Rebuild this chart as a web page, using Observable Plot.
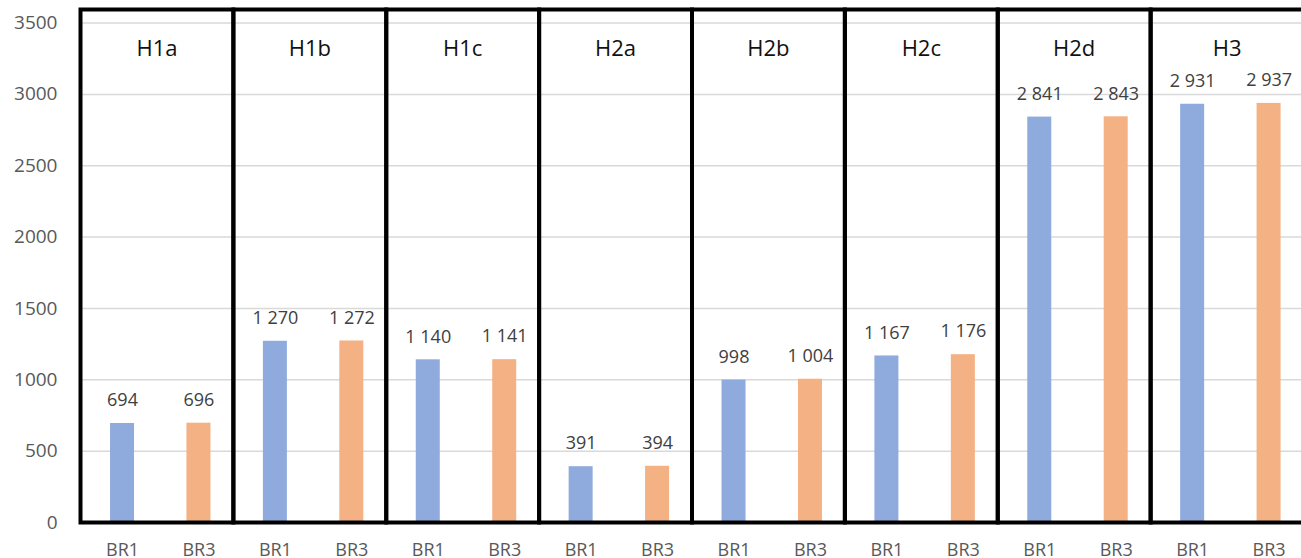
<!DOCTYPE html>
<html>
<head>
<meta charset="utf-8">
<script src="https://cdn.jsdelivr.net/npm/d3@7"></script>
<script src="https://cdn.jsdelivr.net/npm/@observablehq/plot@0.6"></script>
<style>
  html, body { margin: 0; padding: 0; background: #fff; }
  #chart svg { display: block; }
</style>
</head>
<body>
<div id="chart"></div>
<script>
// Group names, series names and values per group
const groups = ["H1a", "H1b", "H1c", "H2a", "H2b", "H2c", "H2d", "H3"];
const series = ["BR1", "BR3"];
const br1 = [694, 1270, 1140, 391, 998, 1167, 2841, 2931];
const br3 = [696, 1272, 1141, 394, 1004, 1176, 2843, 2937];
const yTicks = [0, 500, 1000, 1500, 2000, 2500, 3000, 3500];

const colors = {BR1: "#8faadc", BR3: "#f4b183"};

const rows = groups.flatMap((g, i) => [
  {group: g, series: "BR1", value: br1[i]},
  {group: g, series: "BR3", value: br3[i]}
]);

// Values use a space as thousands separator
const fmt = d3.formatLocale({decimal: ",", thousands: " ", grouping: [3], currency: ["", ""]}).format(",d");

const chart = Plot.plot({
  width: 1301,
  height: 558,
  marginTop: 9,
  marginBottom: 36,
  marginLeft: 80,
  marginRight: 0,
  style: {fontFamily: "'Open Sans', sans-serif", background: "#fff"},
  fx: {domain: groups, range: [80, 1303], padding: 0, round: false, axis: null},
  x: {domain: series, paddingInner: 0.686, paddingOuter: 0.343, round: false, axis: null},
  y: {domain: [0, 3595], axis: null},
  marks: [
    Plot.gridY(yTicks, {stroke: "#d9d9d9", strokeOpacity: 1, strokeWidth: 1.5}),
    Plot.barY(rows, {fx: "group", x: "series", y: "value", fill: d => colors[d.series], dx: 3.8}),
    Plot.text(rows, {
      fx: "group", x: "series", y: "value", text: d => fmt(d.value),
      dx: 3.8, dy: -23, lineAnchor: "middle", fontSize: 18, fill: "#404040"
    }),
    Plot.frame({stroke: "#000", strokeWidth: 4}),
    Plot.text(groups, {
      fx: d => d, text: d => d, frameAnchor: "top", lineAnchor: "middle",
      dy: 39, fontSize: 22, fill: "#111"
    }),
    Plot.axisY(yTicks, {
      tickSize: 0, tickPadding: 23, fontSize: 19, fill: "#595959", label: null,
      tickFormat: d => String(d)
    }),
    Plot.axisX({
      tickSize: 0, tickPadding: 21, fontSize: 18, fill: "#595959", label: null, dx: 3.8
    })
  ]
});

document.getElementById("chart").appendChild(chart);
</script>
</body>
</html>
